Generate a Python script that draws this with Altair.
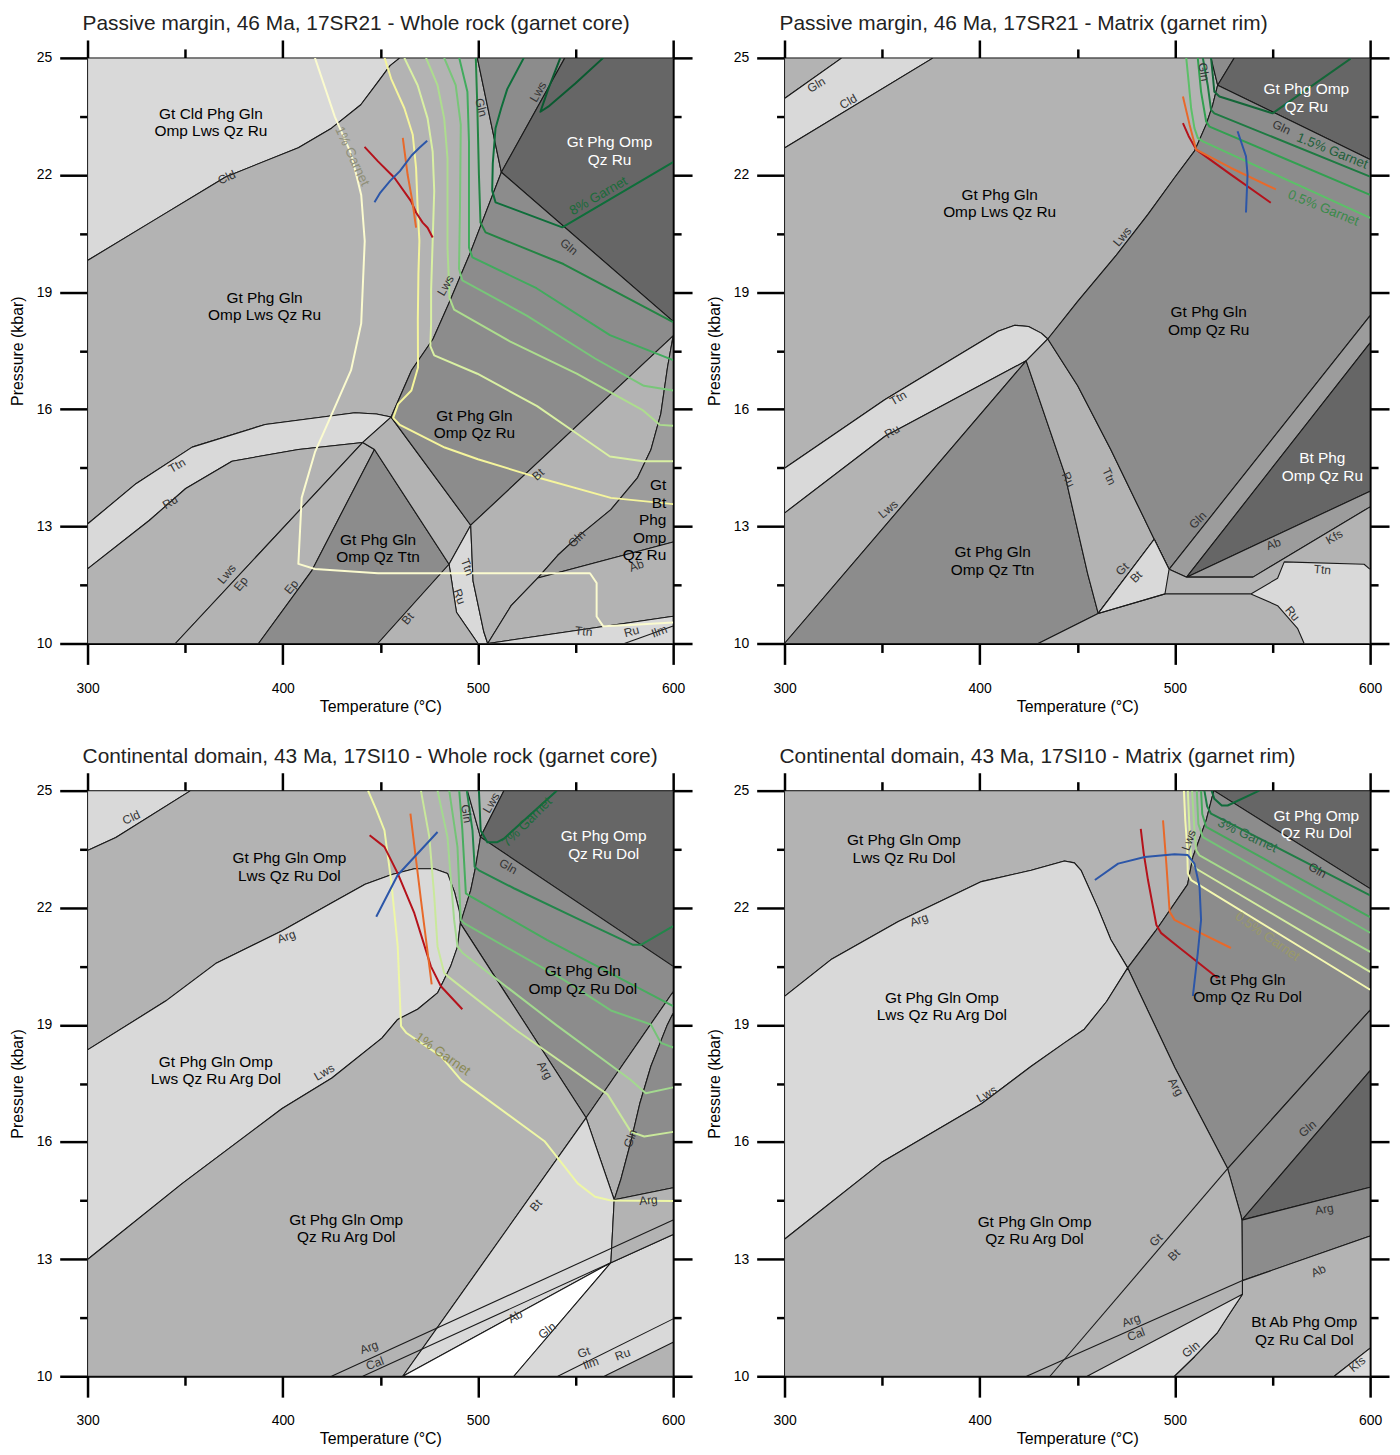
import altair as alt
import pandas as pd

FONT = "Liberation Sans"
LIGHT, MID, DARK, DARKER, DARKEST, WHITE = "#d9d9d9", "#b3b3b3", "#9c9c9c", "#8c8c8c", "#666666", "#ffffff"

X_TICKS = [300, 350, 400, 450, 500, 550, 600]
Y_TICKS = [10, 11.5, 13, 14.5, 16, 17.5, 19, 20.5, 22, 23.5, 25]

TITLES = [
    "Passive margin, 46 Ma, 17SR21 - Whole rock (garnet core)",
    "Passive margin, 46 Ma, 17SR21 - Matrix (garnet rim)",
    "Continental domain, 43 Ma, 17SI10 - Whole rock (garnet core)",
    "Continental domain, 43 Ma, 17SI10 - Matrix (garnet rim)",
]

# ---------------- Panel 1 ----------------
P1_CLD = [(300, 19.81), (335, 20.87), (370.7, 21.95), (408, 22.7), (425, 23.2), (440, 23.8), (449, 24.4), (455, 24.8), (460, 25)]
P1_FIELDS = [
    (LIGHT, [(300, 25)] + P1_CLD[::-1]),
    (MID, P1_CLD + [(499.7, 25), (512, 22.07), (496, 20.0), (485, 18.7), (477, 17.8), (466, 17.0), (455.5, 15.8), (448, 15.88), (437, 15.91), (391, 15.61), (353.6, 15.03), (325, 14.1), (300, 13.06)]),
    (LIGHT, [(300, 13.06), (325, 14.1), (353.6, 15.03), (391, 15.61), (437, 15.91), (448, 15.88), (455.5, 15.8), (441, 15.15), (408, 14.97), (374, 14.67), (350.3, 13.97), (331.6, 13.15), (300, 11.91)]),
    (MID, [(300, 11.91), (331.6, 13.15), (350.3, 13.97), (374, 14.67), (408, 14.97), (441, 15.15), (345, 10), (300, 10)]),
    (MID, [(345, 10), (441, 15.15), (447, 14.97), (414.8, 11.86), (387.6, 10)]),
    (DARKER, [(447, 14.97), (414.8, 11.86), (387.6, 10), (448.7, 10), (485.2, 12.03)]),
    (MID, [(441, 15.15), (455.5, 15.8), (496.3, 13.03), (485.2, 12.03), (447, 14.97)]),
    (LIGHT, [(485.2, 12.03), (496.3, 13.03), (497.5, 11.6), (503, 10.3), (505, 10), (500, 10), (489, 10.8)]),
    (MID, [(448.7, 10), (500, 10), (489, 10.8), (485.2, 12.03)]),
    (DARKER, [(499.7, 25), (544.5, 25), (512, 22.07)]),
    (DARKEST, [(544.5, 25), (600, 25), (600, 18.25), (512, 22.07)]),
    (DARKER, [(512, 22.07), (600, 18.25), (600, 17.88), (496.3, 13.03), (455.5, 15.8), (466, 17.0), (477, 17.8), (485, 18.7), (496, 20.0)]),
    (MID, [(496.3, 13.03), (600, 17.88), (597.1, 17.07), (593.7, 15.89), (588.6, 14.96), (581.8, 14.25), (568.1, 13.43), (551.1, 12.73), (540.9, 12.26), (530.7, 11.68), (517, 10.97), (505, 10), (503, 10.3), (497.5, 11.6)]),
    (DARK, [(600, 17.88), (600, 12.6), (530.7, 11.68), (540.9, 12.26), (551.1, 12.73), (568.1, 13.43), (581.8, 14.25), (588.6, 14.96), (593.7, 15.89), (597.1, 17.07)]),
    (MID, [(530.7, 11.68), (600, 12.6), (600, 10.7), (505, 10), (517, 10.97)]),
    (LIGHT, [(505, 10), (600, 10.7), (600, 10)]),
]
P1_BOUNDS = [[(575, 10), (600, 10.45)]]
P1_ISO = [
    ("#fbfbcf", [(416.5, 25), (426.7, 23.49), (435, 22.55), (440.2, 21.49), (442, 20.31), (440.2, 18.2), (435, 17.0), (424.9, 15.85), (416.5, 14.9), (409.7, 13.73), (408, 12.04), (416.5, 11.91), (448.8, 11.8), (500, 11.8), (557.4, 11.8), (560.8, 11.55), (560.8, 10.69), (564.2, 10.44), (580, 10.48), (600, 10.54)]),
    ("#f5f59c", [(452.2, 25), (455.5, 24.47), (462.3, 23.71), (466.6, 23.03), (468.3, 22.18), (469.1, 21.16), (470, 20.31), (469.5, 19.47), (469.2, 18.3), (469.3, 17.07), (465.9, 16.48), (459.1, 16.13), (456.6, 15.78), (460, 15.6), (483, 15.02), (500, 14.72), (530.7, 14.25), (568.1, 13.73), (600, 13.57)]),
    ("#d9f0a3", [(462.3, 25), (469.1, 24.3), (474.2, 23.45), (476.8, 22.6), (477.6, 21.59), (476.8, 20.31), (476, 19.04), (476, 18.2), (475.6, 17.62), (477.6, 17.38), (499.7, 16.91), (530.3, 16.08), (550.6, 15.38), (567.6, 14.79), (584.6, 14.67), (600, 14.67)]),
    ("#addd8e", [(473.4, 25), (479.3, 24.3), (482.7, 23.45), (484.4, 22.44), (484.4, 21.16), (484.4, 20.14), (485.2, 19.2), (485.4, 18.85), (487.8, 18.55), (516.6, 17.73), (550.6, 16.91), (584.6, 15.97), (593.1, 15.6), (600, 15.58)]),
    ("#78c679", [(482.7, 25), (488.6, 24.3), (491.2, 23.29), (490.8, 21.16), (490.3, 19.6), (492, 19.3), (525, 18.4), (560, 17.3), (585, 16.6), (600, 16.48)]),
    ("#41ab5d", [(490.4, 25), (494.6, 24.13), (495.4, 22.86), (495.4, 20.14), (497.2, 19.89), (530, 19.1), (567.6, 17.9), (600, 17.26)]),
    ("#238443", [(498.9, 25), (499.7, 23.71), (500.5, 22.01), (501.3, 20.78), (503.9, 20.53), (543.8, 19.72), (600, 18.23)]),
    ("#0e6e3a", [(523.5, 25), (515, 24.2), (511.9, 23.71), (509, 23.2), (507.6, 22.3), (507.3, 21.6), (509, 21.3), (543.2, 20.66), (600, 22.33)]),
    ("#0a5a30", [(542.2, 25), (536, 24.2), (532, 23.62), (536, 23.75), (550, 24.35), (564.2, 25)]),
]
P1_PATHS = [
    ("#b5121b", [(441.9, 22.72), (448.8, 22.35), (457.2, 21.93), (465.7, 21.33), (468.3, 21.04), (471.7, 20.78), (474.2, 20.65), (476.8, 20.4)]),
    ("#e8692a", [(461.5, 22.95), (464, 22.0), (466.5, 21.3), (468.3, 20.65)]),
    ("#2c56a8", [(447, 21.3), (450, 21.55), (455, 21.85), (460, 22.1), (466, 22.5), (470, 22.7), (474, 22.88)]),
]
P1_FLABELS = [
    ("Gt Cld Phg Gln\nOmp Lws Qz Ru", 363.2, 23.57, "black", "center"),
    ("Gt Phg Gln\nOmp Lws Qz Ru", 390.7, 18.86, "black", "center"),
    ("Gt Phg Gln\nOmp Qz Ttn", 448.8, 12.65, "black", "center"),
    ("Gt Phg Gln\nOmp Qz Ru", 498.2, 15.83, "black", "center"),
    ("Gt Phg Omp\nQz Ru", 567.4, 22.84, "white", "center"),
    ("Gt\nBt\nPhg\nOmp\nQz Ru", 596.5, 14.05, "black", "right"),
]
P1_SLABELS = [
    ("Cld", 371.3, 21.94, 335), ("Ttn", 345.8, 14.56, 330), ("Ru", 342.3, 13.62, 330),
    ("Lws", 371.3, 11.78, 310), ("Ep", 378.5, 11.53, 310), ("Ep", 404.4, 11.45, 310),
    ("Bt", 464, 10.64, 310), ("Ttn", 494.6, 11.96, 70), ("Ru", 490.5, 11.2, 70),
    ("Gln", 501.7, 23.73, 75), ("Lws", 530.8, 24.13, 300), ("Gln", 546.6, 20.16, 40),
    ("Lws", 483.4, 19.17, 300), ("Bt", 530.8, 14.33, 317), ("Gln", 550.6, 12.68, 315),
    ("Ab", 581.2, 11.99, 340), ("Ttn", 554.2, 10.31, 5), ("Ru", 578.7, 10.31, 345),
    ("Ilm", 592.9, 10.31, 340),
]
P1_GLABELS = [
    ("1% Garnet", 435.5, 22.48, 65, "#8f8f78"),
    ("8% Garnet", 561.8, 21.46, 330, "#1b6b3a"),
]

# ---------------- Panel 2 ----------------
P2_FIELDS = [
    (MID, [(300, 25), (329.4, 25), (300, 23.96)]),
    (LIGHT, [(300, 23.96), (329.4, 25), (376.2, 25), (300, 22.69)]),
    (MID, [(300, 22.69), (376.2, 25), (518.5, 25), (521.9, 24.3), (519.4, 23.8), (516, 23.29), (510, 22.61), (499.8, 21.93), (486.2, 20.99), (470, 19.95), (450, 18.75), (434.9, 17.8), (431.5, 17.95), (425, 18.12), (418, 18.15), (409.4, 18.0), (351.5, 16.25), (300, 14.49)]),
    (LIGHT, [(300, 14.49), (351.5, 16.25), (409.4, 18.0), (418, 18.15), (425, 18.12), (431.5, 17.95), (434.9, 17.8), (423.8, 17.24), (351.5, 15.31), (300, 13.34)]),
    (MID, [(300, 13.34), (351.5, 15.31), (423.8, 17.24), (300, 10)]),
    (DARKER, [(300, 10), (423.8, 17.24), (443.4, 14.37), (455.3, 11.79), (460.7, 10.77), (430, 10)]),
    (MID, [(423.8, 17.24), (434.9, 17.8), (450.2, 16.6), (467.2, 14.96), (480.9, 13.55), (489.4, 12.67), (460.7, 10.77), (455.3, 11.79), (443.4, 14.37)]),
    (DARKER, [(518.5, 25), (530.4, 25), (521.9, 24.3)]),
    (DARKEST, [(530.4, 25), (600, 25), (600, 22.4), (521.9, 24.3)]),
    (DARKER, [(434.9, 17.8), (450, 18.75), (470, 19.95), (486.2, 20.99), (499.8, 21.93), (510, 22.61), (516, 23.29), (519.4, 23.8), (521.9, 24.3), (600, 22.4), (600, 18.4), (497, 11.9), (489.4, 12.67), (480.9, 13.55), (467.2, 14.96), (450.2, 16.6)]),
    (DARK, [(497, 11.9), (600, 18.4), (600, 17.7), (506, 11.7)]),
    (DARKEST, [(506, 11.7), (600, 17.7), (600, 13.9)]),
    (DARK, [(506, 11.7), (600, 13.9), (600, 13.5), (540, 11.7)]),
    (MID, [(430, 10), (460.7, 10.77), (489.4, 12.67), (497, 11.9), (506, 11.7), (540, 11.7), (600, 13.5), (600, 10)]),
    (LIGHT, [(460.7, 10.77), (489.4, 12.67), (497, 11.9), (494.9, 11.27)]),
    (LIGHT, [(538.9, 11.27), (552.6, 11.67), (556, 12.09), (596.9, 12.03), (600, 11.9), (600, 10), (566.2, 10), (562.8, 10.39), (552.6, 10.97)]),
]
P2_BOUNDS = [[(460.7, 10.77), (494.9, 11.27), (538.9, 11.27)]]
P2_ISO = [
    ("#5cc068", [(505.8, 25), (507, 24.4), (508.3, 23.71), (510, 23.2), (511.7, 22.95), (514.3, 22.86), (600, 20.9)]),
    ("#32a050", [(511.7, 25), (513.4, 24.13), (516, 23.37), (517.7, 23.24), (600, 21.49)]),
    ("#1e7a42", [(514.3, 25), (516.8, 24.3), (518.5, 23.67), (520.2, 23.58), (600, 21.96)]),
    ("#146638", [(518.5, 25), (519.5, 24.5), (520.2, 24.13), (522.8, 24.01), (550, 23.58), (590, 24.98)]),
]
P2_PATHS = [
    ("#b5121b", [(504.1, 23.33), (507, 23.0), (510.9, 22.65), (528.7, 22.01), (549.1, 21.29)]),
    ("#e8692a", [(504.1, 24.01), (507.5, 23.29), (510.9, 22.65), (528.7, 22.18), (551.7, 21.63)]),
    ("#2c56a8", [(532.1, 23.12), (536.4, 22.48), (537.2, 22.01), (536.4, 21.04)]),
]
P2_FLABELS = [
    ("Gt Phg Gln\nOmp Lws Qz Ru", 410.2, 21.49, "black", "center"),
    ("Gt Phg Omp\nQz Ru", 567.3, 24.19, "white", "center"),
    ("Gt Phg Gln\nOmp Qz Ru", 517.3, 18.48, "black", "center"),
    ("Bt Phg\nOmp Qz Ru", 575.5, 14.74, "white", "center"),
    ("Gt Phg Gln\nOmp Qz Ttn", 406.6, 12.34, "black", "center"),
]
P2_SLABELS = [
    ("Gln", 316.3, 24.31, 330), ("Cld", 332.7, 23.88, 330), ("Ttn", 358.2, 16.29, 330),
    ("Ru", 355.1, 15.43, 330), ("Lws", 353.1, 13.44, 320), ("Ru", 445.4, 14.2, 65),
    ("Ttn", 466.3, 14.28, 65), ("Lws", 473, 20.42, 310), ("Gln", 514.8, 24.64, 80),
    ("Gln", 554.6, 23.22, 25), ("Gln", 511.7, 13.16, 315), ("Gt", 473, 11.91, 315),
    ("Bt", 480.1, 11.71, 315), ("Ab", 550.5, 12.55, 340), ("Kfs", 581.6, 12.73, 330),
    ("Ttn", 575.5, 11.89, 5), ("Ru", 560.2, 10.77, 50),
]
P2_GLABELS = [
    ("1.5% Garnet", 580.6, 22.61, 22, "#1f5f3a"),
    ("0.5% Garnet", 576.0, 21.15, 22, "#3a8a4a"),
]

# ---------------- Panel 3 ----------------
P3_FIELDS = [
    (LIGHT, [(300, 25), (352.8, 25), (314.5, 23.8), (300, 23.47)]),
    (MID, [(300, 23.47), (314.5, 23.8), (352.8, 25), (494.6, 25), (501.3, 23.81), (498.8, 23.05), (496.3, 22.45), (491, 21.6), (490.5, 21.9), (488, 22.4), (484.4, 22.88), (477.6, 23.0), (467.4, 23.0), (455.9, 22.85), (442.2, 22.6), (425.2, 22.13), (399.7, 21.41), (365.6, 20.57), (340, 19.61), (300, 18.36)]),
    (LIGHT, [(300, 18.36), (340, 19.61), (365.6, 20.57), (399.7, 21.41), (425.2, 22.13), (442.2, 22.6), (455.9, 22.85), (467.4, 23.0), (477.6, 23.0), (484.4, 22.88), (488, 22.4), (490.5, 21.9), (491, 21.6), (489.5, 21.0), (486, 20.5), (482.7, 20.16), (479.3, 19.82), (469.1, 19.4), (458.9, 19.14), (450.8, 18.66), (425.2, 17.64), (399.7, 16.86), (348.6, 14.94), (300, 12.99)]),
    (MID, [(494.6, 25), (513.3, 25), (501.3, 23.81)]),
    (DARKEST, [(513.3, 25), (600, 25), (600, 20.5), (501.3, 23.81)]),
    (DARKER, [(501.3, 23.81), (600, 20.5), (600, 19.85), (555.4, 16.62), (491, 21.6), (496.3, 22.45), (498.8, 23.05)]),
    (MID, [(555.4, 16.62), (600, 19.85), (600, 19.3), (597, 19.0), (588.6, 17.94), (583, 17.0), (578.4, 16.02), (573.3, 15.06), (569.8, 14.52)]),
    (DARKER, [(600, 19.3), (600, 14.83), (569.8, 14.52), (573.3, 15.06), (578.4, 16.02), (583, 17.0), (588.6, 17.94), (597, 19.0)]),
    (MID, [(300, 10), (300, 12.99), (348.6, 14.94), (399.7, 16.86), (425.2, 17.64), (450.8, 18.66), (458.9, 19.14), (469.1, 19.4), (479.3, 19.82), (482.7, 20.16), (486, 20.5), (489.5, 21.0), (491, 21.6), (555.4, 16.62), (461.5, 10)]),
    (LIGHT, [(461.5, 10), (555.4, 16.62), (569.8, 14.52), (568.1, 12.91)]),
    (WHITE, [(461.5, 10), (568.1, 12.91), (518.4, 10)]),
    (LIGHT, [(518.4, 10), (568.1, 12.91), (600, 13.63), (600, 10)]),
    (MID, [(568.1, 12.91), (569.8, 14.52), (600, 14.83), (600, 13.63)]),
    (MID, [(564.7, 10), (600, 10.87), (600, 10)]),
]
P3_BOUNDS = [[(425, 10), (600, 14.0)], [(441, 10), (568.1, 12.91)], [(540.9, 10), (600, 11.47)]]
P3_ISO = [
    ("#eef7a6", [(443.7, 25), (448, 24.5), (452.1, 23.98), (455.5, 22.71), (458.9, 21.01), (460.6, 18.97), (463.2, 18.8), (481, 18.2), (491.5, 17.58), (534.1, 16.02), (551.1, 14.94), (560, 14.6), (568.1, 14.5), (600, 14.49)]),
    ("#c9e89b", [(470.8, 25), (475.1, 23.81), (477.6, 22.3), (479.3, 21.01), (482.7, 20.33), (484.4, 20.25), (520, 18.85), (566.4, 17.22), (578.4, 16.26), (585.2, 16.14), (600, 16.26)]),
    ("#a3d98f", [(479.3, 25), (484.4, 23.81), (487.8, 21.69), (489.5, 21.01), (492, 20.85), (540, 19.0), (578, 17.6), (586, 17.25), (600, 17.4)]),
    ("#74c377", [(485.3, 25), (489.5, 23.56), (491.2, 21.69), (493, 21.6), (543.8, 20.16), (568.1, 19.37), (588.6, 19.01), (593.7, 18.54), (600, 18.42)]),
    ("#47ac5e", [(490.4, 25), (492, 24.0), (493.8, 22.37), (496, 22.3), (535.3, 21.18), (600, 19.48)]),
    ("#22864a", [(494.3, 25), (497.2, 23.98), (498.3, 23.05), (500.5, 22.96), (518.4, 22.5), (552.3, 21.69), (579.5, 21.05), (583.5, 21.05), (600, 21.53)]),
    ("#0f6a3a", [(500.5, 25), (501.4, 23.98), (504.8, 23.68), (509.9, 23.68), (513.3, 23.77), (540.4, 25)]),
]
P3_PATHS = [
    ("#b5121b", [(444.5, 23.86), (452.1, 23.56), (458.9, 22.88), (467.4, 21.86), (475.9, 20.5), (481, 19.99), (492, 19.4)]),
    ("#e8692a", [(465.4, 24.41), (470.8, 22.2), (476.3, 20.04)]),
    ("#2c56a8", [(447.9, 21.77), (458.9, 22.84), (479.3, 23.94)]),
]
P3_FLABELS = [
    ("Gt Phg Gln Omp\nLws Qz Ru Dol", 403.4, 23.27, "black", "center"),
    ("Gt Phg Gln Omp\nLws Qz Ru Arg Dol", 365.7, 18.05, "black", "center"),
    ("Gt Phg Gln Omp\nQz Ru Arg Dol", 432.5, 14.0, "black", "center"),
    ("Gt Phg Gln\nOmp Qz Ru Dol", 553.7, 20.37, "black", "center"),
    ("Gt Phg Omp\nQz Ru Dol", 564.4, 23.83, "white", "center"),
]
P3_SLABELS = [
    ("Cld", 322.4, 24.31, 335), ("Arg", 401.9, 21.26, 340), ("Lws", 421.2, 17.79, 330),
    ("Arg", 444.2, 10.74, 340), ("Cal", 447.2, 10.33, 340), ("Gln", 494.1, 24.41, 80),
    ("Lws", 506.8, 24.69, 300), ("Gln", 515.5, 23.06, 30), ("Arg", 534.3, 17.84, 60),
    ("Bt", 529.7, 14.38, 310), ("Gln", 578.1, 16.09, 290), ("Arg", 587.3, 14.51, 355),
    ("Ab", 519.1, 11.53, 330), ("Gln", 535.4, 11.17, 320), ("Gt", 554.2, 10.61, 340),
    ("Ilm", 557.8, 10.33, 340), ("Ru", 574.1, 10.56, 340),
]
P3_GLABELS = [
    ("7% Garnet", 525.2, 24.19, 315, "#1b6b3a"),
    ("1% Garnet", 481.9, 18.25, 35, "#8a8a55"),
]

# ---------------- Panel 4 ----------------
P4_FIELDS = [
    (MID, [(300, 25), (520, 25), (519.4, 24.9), (516, 24.24), (509.2, 23.3), (506.5, 22.6), (490, 21.4), (475.8, 20.46), (467.2, 21.18), (460.4, 22.01), (452, 22.95), (448.5, 23.15), (443.4, 23.2), (426.4, 22.96), (400.9, 22.67), (358.3, 21.65), (324.3, 20.69), (300, 19.73)]),
    (LIGHT, [(300, 19.73), (324.3, 20.69), (358.3, 21.65), (400.9, 22.67), (426.4, 22.96), (443.4, 23.2), (448.5, 23.15), (452, 22.95), (460.4, 22.01), (467.2, 21.18), (475.8, 20.46), (465, 19.6), (453.6, 18.89), (443.4, 18.54), (426.4, 17.94), (400.9, 16.98), (349.8, 15.48), (300, 13.51)]),
    (DARKEST, [(520, 25), (600, 25), (600, 22.49)]),
    (DARKER, [(520, 25), (600, 22.49), (600, 19.38), (527, 15.32), (500, 17.9), (475.8, 20.46), (490, 21.4), (506.5, 22.6), (509.2, 23.3), (516, 24.24), (519.4, 24.9)]),
    (DARKER, [(527, 15.32), (600, 19.38), (600, 17.83), (534.3, 14.0), (533.8, 14.12)]),
    (DARKEST, [(534.3, 14.0), (600, 17.83), (600, 14.84)]),
    (DARKER, [(534.3, 14.0), (600, 14.84), (600, 13.59), (534.6, 12.45)]),
    (MID, [(300, 10), (300, 13.51), (349.8, 15.48), (400.9, 16.98), (426.4, 17.94), (443.4, 18.54), (453.6, 18.89), (465, 19.6), (475.8, 20.46), (500, 17.9), (527, 15.32), (533.8, 14.12), (534.3, 14.0), (534.6, 12.45), (534.6, 12.1), (528, 11.6), (521.8, 11.12), (510, 10.5), (499.7, 10)]),
    (MID, [(534.6, 12.45), (600, 13.59), (600, 10.72), (581.6, 10), (499.7, 10), (510, 10.5), (521.8, 11.12), (528, 11.6), (534.6, 12.1)]),
    (LIGHT, [(455, 10), (534.6, 12.1), (528, 11.6), (521.8, 11.12), (510, 10.5), (499.7, 10)]),
    (LIGHT, [(581.6, 10), (600, 10.72), (600, 10)]),
]
P4_BOUNDS = [[(436, 10), (527, 15.32)], [(424, 10), (534.6, 12.45)]]
P4_ISO = [
    ("#f4f8b0", [(504.6, 25), (505.3, 24.24), (506.3, 23.56), (506.6, 22.88), (508.3, 22.71), (600, 19.9)]),
    ("#d4ed9f", [(506.6, 25), (507.5, 23.98), (508.3, 23.22), (510.9, 23.0), (600, 20.36)]),
    ("#a6da8c", [(508.8, 25), (510, 23.98), (510.9, 23.47), (512.6, 23.34), (600, 20.87)]),
    ("#74c377", [(511.2, 25), (512, 24.15), (514.3, 23.81), (600, 21.36)]),
    ("#45a95b", [(513.4, 25), (514, 24.4), (516, 24.07), (600, 21.76)]),
    ("#1f7d45", [(515.1, 25), (516.5, 24.6), (518.5, 24.41), (600, 22.32)]),
    ("#0f6a3a", [(518.8, 25), (520.2, 24.79), (524, 24.62), (527, 24.62), (543.2, 25)]),
]
P4_PATHS = [
    ("#b5121b", [(482.5, 24.02), (484, 23.4), (486.2, 22.71), (490.5, 21.56), (493, 21.35), (501.5, 21.01), (521.9, 20.2)]),
    ("#e8692a", [(493.9, 24.24), (495.6, 23.13), (497.3, 21.9), (499.8, 21.69), (511.7, 21.39), (528.7, 20.97)]),
    ("#2c56a8", [(459, 22.71), (470.9, 23.13), (484.5, 23.3), (499.8, 23.37), (506.6, 23.35), (510, 23.13), (512.6, 22.54), (513.4, 21.69), (511.7, 20.84), (509.2, 19.74)]),
]
P4_FLABELS = [
    ("Gt Phg Gln Omp\nLws Qz Ru Dol", 361.2, 23.73, "black", "center"),
    ("Gt Phg Gln Omp\nLws Qz Ru Arg Dol", 380.6, 19.7, "black", "center"),
    ("Gt Phg Gln Omp\nQz Ru Arg Dol", 428.1, 13.95, "black", "center"),
    ("Gt Phg Gln\nOmp Qz Ru Dol", 537.2, 20.16, "black", "center"),
    ("Gt Phg Omp\nQz Ru Dol", 572.4, 24.36, "white", "center"),
    ("Bt Ab Phg Omp\nQz Ru Cal Dol", 566.3, 11.38, "black", "center"),
]
P4_SLABELS = [
    ("Arg", 368.9, 21.69, 340), ("Lws", 403.6, 17.23, 330), ("Lws", 507.1, 23.73, 290),
    ("Gln", 573, 22.96, 30), ("Arg", 500.5, 17.41, 60), ("Gln", 567.9, 16.34, 320),
    ("Arg", 576.5, 14.28, 350), ("Gt", 490.3, 13.49, 315), ("Bt", 499.5, 13.11, 315),
    ("Ab", 573.5, 12.7, 335), ("Arg", 477.6, 11.43, 340), ("Cal", 480.1, 11.07, 340),
    ("Gln", 508.2, 10.69, 320), ("Kfs", 593.4, 10.31, 320),
]
P4_GLABELS = [
    ("3% Garnet", 537.2, 23.85, 25, "#2a6a45"),
    ("0.5% Garnet", 547.4, 21.26, 35, "#9a9a6a"),
]


# ---------------- builders ----------------
def poly_df(fields):
    rows = []
    for k, (shade, pts) in enumerate(fields):
        ring = list(pts) + [pts[0]]
        for i, (t, p) in enumerate(ring):
            rows.append({"pid": k, "i": i, "T": t, "P": p, "shade": shade})
    return pd.DataFrame(rows)


def line_df(lines):
    rows = []
    for k, (col, pts) in enumerate(lines):
        for i, (t, p) in enumerate(pts):
            rows.append({"lid": k, "i": i, "T": t, "P": p, "col": col})
    return pd.DataFrame(rows)


XMAJ = "datum.value % 100 == 0"
YMAJ = "(datum.value - 10) % 3 == 0"


def tick_size(test, big, small):
    return {"condition": {"test": test, "value": big}, "value": small}


COMMON_AX = dict(grid=False, tickWidth=2.5, tickColor="black", domainColor="black", domainWidth=2,
                 labelFont=FONT, labelFontSize=14, labelColor="black", titleFont=FONT,
                 titleFontSize=16, titleFontWeight="normal", titleColor="black")

AX_BOTTOM = alt.Axis(orient="bottom", values=X_TICKS, labelExpr=f"{XMAJ} ? datum.label : ''",
                     tickSize=tick_size(XMAJ, 21, 9), labelPadding=17, title="Temperature (°C)",
                     titlePadding=3, labelFlush=False, labelOverlap=False, **COMMON_AX)
AX_LEFT = alt.Axis(orient="left", values=Y_TICKS, labelExpr=f"{YMAJ} ? datum.label : ''",
                   tickSize=tick_size(YMAJ, 28, 8), labelPadding=8, title="Pressure (kbar)",
                   titlePadding=11, labelFlush=False, labelOverlap=False, **COMMON_AX)
AX_TOP = alt.Axis(orient="top", values=X_TICKS, labels=False, title=None,
                  tickSize=tick_size(XMAJ, 18, 9), **COMMON_AX)
AX_RIGHT = alt.Axis(orient="right", values=Y_TICKS, labels=False, title=None,
                    tickSize=tick_size(YMAJ, 19, 8), **COMMON_AX)

XS = alt.Scale(domain=[300, 600], nice=False, zero=False)
YS = alt.Scale(domain=[10, 25], nice=False, zero=False)


def X(axis=None):
    return alt.X("T:Q", scale=XS, axis=axis)


def Y(axis=None):
    return alt.Y("P:Q", scale=YS, axis=axis)


def panel(title, fields, bounds, isos, paths, flabels, slabels, glabels):
    layers = []
    layers.append(
        alt.Chart(poly_df(fields)).mark_line(stroke="#1a1a1a", strokeWidth=1.1, strokeJoin="round", clip=True)
        .encode(x=X(AX_BOTTOM), y=Y(AX_LEFT), detail="pid:N", order="i:Q", fill=alt.Fill("shade:N", scale=None))
    )
    if bounds:
        layers.append(
            alt.Chart(line_df([("#1a1a1a", b) for b in bounds])).mark_line(strokeWidth=1.1, clip=True)
            .encode(x=X(), y=Y(), detail="lid:N", order="i:Q", stroke=alt.Stroke("col:N", scale=None))
        )
    layers.append(
        alt.Chart(line_df(isos)).mark_line(strokeWidth=2, clip=True, strokeJoin="round")
        .encode(x=X(AX_TOP), y=Y(AX_RIGHT), detail="lid:N", order="i:Q", stroke=alt.Stroke("col:N", scale=None))
    )
    layers.append(
        alt.Chart(line_df(paths)).mark_line(strokeWidth=2, clip=True, strokeJoin="round")
        .encode(x=X(), y=Y(), detail="lid:N", order="i:Q", stroke=alt.Stroke("col:N", scale=None))
    )
    sdf = pd.DataFrame(slabels, columns=["txt", "T", "P", "ang"])
    layers.append(
        alt.Chart(sdf).mark_text(font=FONT, fontSize=12, color="#333333")
        .encode(x=X(), y=Y(), text="txt:N", angle=alt.Angle("ang:Q", scale=None))
    )
    gdf = pd.DataFrame(glabels, columns=["txt", "T", "P", "ang", "col"])
    layers.append(
        alt.Chart(gdf).mark_text(font=FONT, fontSize=13.5)
        .encode(x=X(), y=Y(), text="txt:N", angle=alt.Angle("ang:Q", scale=None), color=alt.Color("col:N", scale=None))
    )
    fdf = pd.DataFrame(flabels, columns=["txt", "T", "P", "col", "al"])
    for al in ["center", "right"]:
        sub = fdf[fdf["al"] == al]
        if len(sub):
            layers.append(
                alt.Chart(sub).mark_text(font=FONT, fontSize=15.5, lineBreak="\n", lineHeight=17.5, align=al, baseline="middle")
                .encode(x=X(), y=Y(), text="txt:N", color=alt.Color("col:N", scale=None))
            )
    return (
        alt.layer(*layers)
        .resolve_axis(x="independent", y="independent")
        .properties(width=589, height=589,
                    title=alt.TitleParams(title, anchor="start", frame="group", dx=-5, offset=5,
                                          fontSize=21, font=FONT, fontWeight="normal", color="#222222"))
    )


p1 = panel(TITLES[0], P1_FIELDS, P1_BOUNDS, P1_ISO, P1_PATHS, P1_FLABELS, P1_SLABELS, P1_GLABELS)
p2 = panel(TITLES[1], P2_FIELDS, P2_BOUNDS, P2_ISO, P2_PATHS, P2_FLABELS, P2_SLABELS, P2_GLABELS)
p3 = panel(TITLES[2], P3_FIELDS, P3_BOUNDS, P3_ISO, P3_PATHS, P3_FLABELS, P3_SLABELS, P3_GLABELS)
p4 = panel(TITLES[3], P4_FIELDS, P4_BOUNDS, P4_ISO, P4_PATHS, P4_FLABELS, P4_SLABELS, P4_GLABELS)

chart = (
    alt.vconcat(alt.hconcat(p1, p2, spacing=12), alt.hconcat(p3, p4, spacing=12), spacing=31)
    .properties(padding={"left": 1, "top": 0, "right": 1, "bottom": 1})
    .configure_view(strokeWidth=0)
)

chart.save("out.html", embed_options={"renderer": "svg", "actions": False})
